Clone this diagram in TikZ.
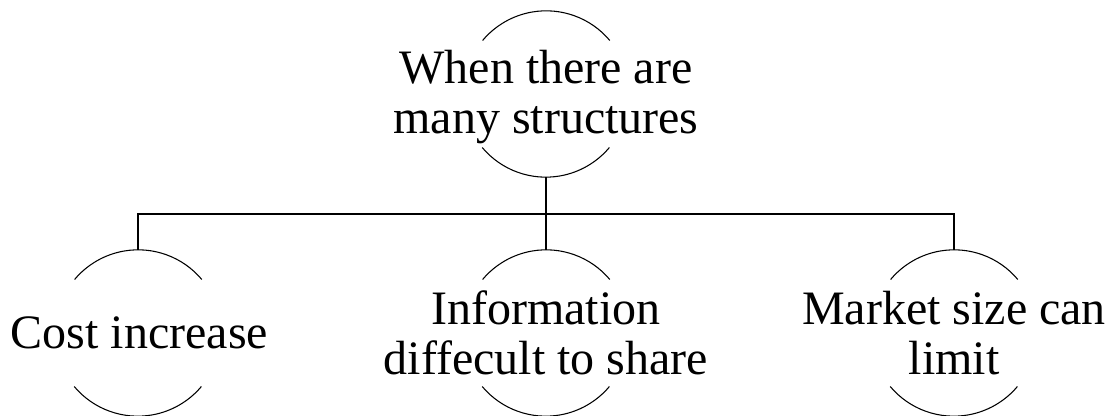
\documentclass[tikz,border=0pt]{standalone}
\usepackage{fontspec}
\setmainfont{Liberation Serif}
\begin{document}
\begin{tikzpicture}[x=0.75pt,y=0.75pt,
  ring/.style={circle,minimum size=124.5pt,inner sep=0pt,draw=none},
  caption/.style={align=center,inner sep=0pt,font=\fontsize{36}{37.5}\selectfont},
  arcline/.style={line width=0.8pt},
  link/.style={line width=0.9pt}]
\useasboundingbox (0,0) rectangle (1117,416);

% circles (only top and bottom arcs are drawn)
\node[ring] (top)   at (546,322) {};
\node[ring] (left)  at (138,83)  {};
\node[ring] (mid)   at (546,83)  {};
\node[ring] (right) at (954,83)  {};

\foreach \n in {top,left,mid,right}{
  \draw[arcline] (\n.40) arc[start angle=40,end angle=140,radius=62.25pt];
  \draw[arcline] (\n.220) arc[start angle=220,end angle=320,radius=62.25pt];
}

% labels
\node[caption] (ttop)   at ([yshift=-2pt]top.center) {When there are\\many structures};
\node[caption] (tleft)  at ([xshift=1pt]left.center)  {Cost increase};
\node[caption] (tmid)   at (mid.center)   {Information\\diffecult to share};
\node[caption] (tright) at (right.center) {Market size can\\limit};

% tree connectors
\coordinate (bus) at (546,202);
\draw[link] (top.south) -- (bus);
\draw[link] (mid.north) -- (bus);
\draw[link] (left.north) -- (left.north |- bus) -- (right.north |- bus) -- (right.north);
\end{tikzpicture}
\end{document}
